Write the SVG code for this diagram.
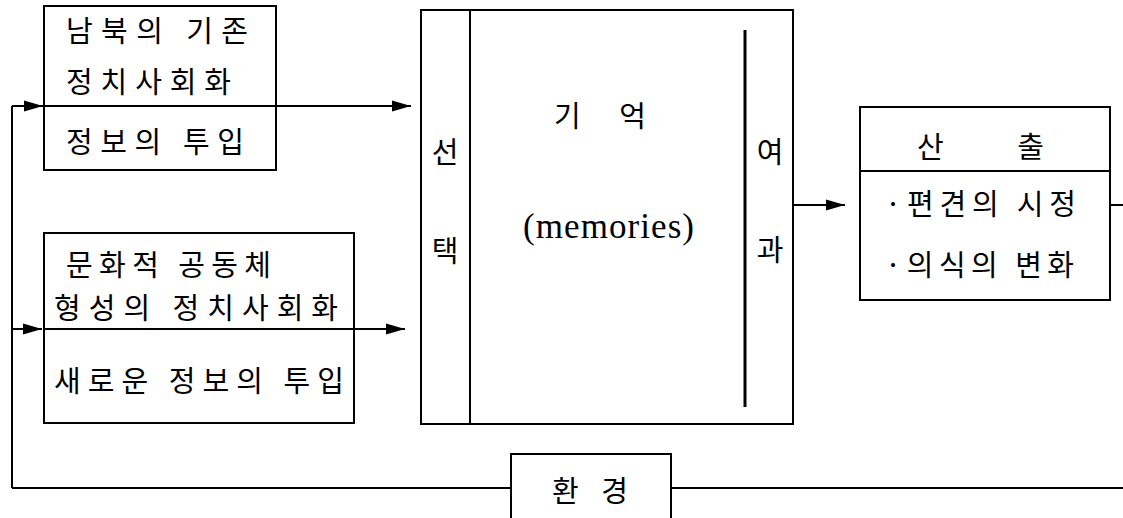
<svg xmlns="http://www.w3.org/2000/svg" width="1123" height="518" viewBox="0 0 1123 518">
<style>
.box{fill:none;stroke:#000;stroke-width:2}
.ln{fill:none;stroke:#000;stroke-width:2}
.ko{font-family:"Noto Sans CJK KR","Noto Sans",sans-serif;font-size:29px;fill:#000}
.en{font-family:"Liberation Serif",serif;font-size:35px;fill:#000}
</style>
<defs>
<marker id="ah" markerUnits="userSpaceOnUse" markerWidth="20" markerHeight="12" refX="19" refY="6" orient="auto">
<path d="M0,0.5 L19,6 L0,11.5 z" fill="#000"/>
</marker>
</defs>
<rect width="1123" height="518" fill="#fff"/>
<g id="connectors">
<line class="ln" x1="12" y1="106" x2="12" y2="488"/>
<line class="ln" x1="12" y1="106" x2="43" y2="106" marker-end="url(#ah)"/>
<line class="ln" x1="276" y1="106" x2="411" y2="106" marker-end="url(#ah)"/>
<line class="ln" x1="12" y1="329" x2="42" y2="329" marker-end="url(#ah)"/>
<line class="ln" x1="354" y1="329" x2="405" y2="329" marker-end="url(#ah)"/>
<line class="ln" x1="793" y1="205" x2="845" y2="205" marker-end="url(#ah)"/>
<line class="ln" x1="1110" y1="205" x2="1123" y2="205"/>
<line class="ln" x1="12" y1="488" x2="511" y2="488"/>
<line class="ln" x1="671" y1="488" x2="1123" y2="488"/>
</g>
<g id="input1">
<rect class="box" x="44" y="6" width="232" height="164"/>
<line class="ln" x1="44" y1="106" x2="276" y2="106"/>
<text class="ko" x="66" y="42" textLength="182" lengthAdjust="spacing">남북의 기존</text>
<text class="ko" x="66" y="93" textLength="165" lengthAdjust="spacing">정치사회화</text>
<text class="ko" x="66" y="153" textLength="178" lengthAdjust="spacing">정보의 투입</text>
</g>
<g id="input2">
<rect class="box" x="44" y="233" width="310" height="190"/>
<line class="ln" x1="44" y1="329" x2="354" y2="329"/>
<text class="ko" x="66" y="276" textLength="205" lengthAdjust="spacing">문화적 공동체</text>
<text class="ko" x="54" y="319" textLength="284" lengthAdjust="spacing">형성의 정치사회화</text>
<text class="ko" x="54" y="392" textLength="290" lengthAdjust="spacing">새로운 정보의 투입</text>
</g>
<g id="memory">
<rect class="box" x="421" y="10" width="372" height="414"/>
<line class="ln" x1="470" y1="10" x2="470" y2="424"/>
<line x1="745" y1="30" x2="745" y2="407" stroke="#000" stroke-width="3"/>
<text class="ko" x="445" y="163" text-anchor="middle">선</text>
<text class="ko" x="445" y="262" text-anchor="middle">택</text>
<text class="ko" x="554" y="127" textLength="92" lengthAdjust="spacing">기 억</text>
<text class="en" x="523" y="238" textLength="171" lengthAdjust="spacing">(memories)</text>
<text class="ko" x="770" y="163" text-anchor="middle">여</text>
<text class="ko" x="770" y="261" text-anchor="middle">과</text>
</g>
<g id="output">
<rect class="box" x="860" y="107" width="250" height="193"/>
<line class="ln" x1="860" y1="171" x2="1110" y2="171"/>
<text class="ko" x="917" y="158" textLength="127" lengthAdjust="spacing">산    출</text>
<text class="ko" x="885" y="215" textLength="191" lengthAdjust="spacing">·편견의 시정</text>
<text class="ko" x="885" y="276" textLength="189" lengthAdjust="spacing">·의식의 변화</text>
</g>
<g id="environment">
<rect class="box" x="511" y="454" width="160" height="80"/>
<text class="ko" x="552" y="502" textLength="76" lengthAdjust="spacing">환 경</text>
</g>
</svg>
